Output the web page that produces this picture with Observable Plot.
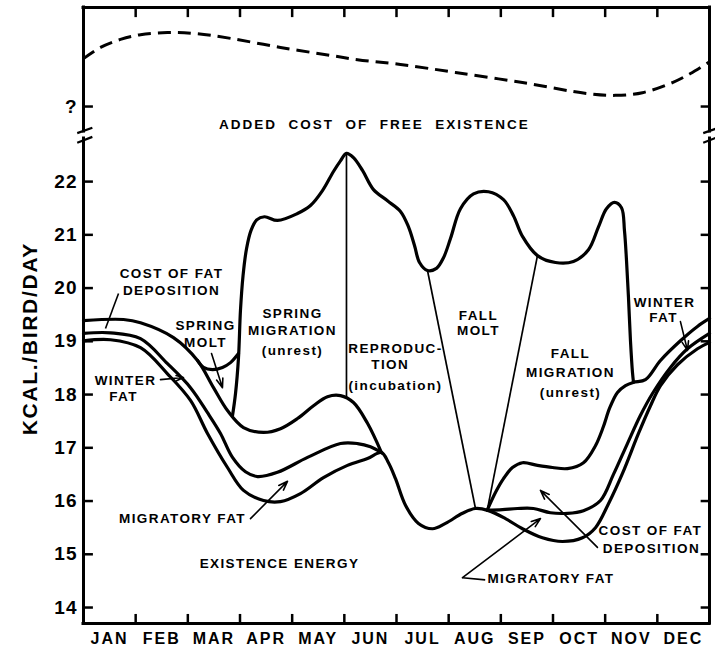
<!DOCTYPE html>
<html><head><meta charset="utf-8">
<script src="https://cdn.jsdelivr.net/npm/d3@7"></script>
<script src="https://cdn.jsdelivr.net/npm/@observablehq/plot@0.6"></script>
<style>
body{margin:0;background:#fff;}
#chart svg{display:block;}
</style></head><body><div id="chart"></div>
<script>
// ---- scale / tick data ----
const months = ["JAN","FEB","MAR","APR","MAY","JUN","JUL","AUG","SEP","OCT","NOV","DEC"];
const yTicks = [14,15,16,17,18,19,20,21,22];
const qTick = 23.41;            // the "?" tick above the axis break
const yMin = 13.70, yMax = 25.27;
const breakLo = 22.81, breakHi = 22.94;

// ---- series: [month (0-12), kcal/bird/day] ----
const addedCost = [[0,24.31],[0.326,24.52],[0.709,24.67],[1.093,24.76],[1.61,24.80],[2.147,24.78],[2.818,24.69],[3.776,24.52],[4.735,24.37],[5.252,24.29],[6.076,24.20],[7.131,24.05],[8.415,23.86],[9.68,23.65],[10.197,23.62],[10.715,23.67],[11.29,23.86],[11.635,24.03],[12,24.25]];

const existence = [[0,19.01],[0.518,19.03],[1.093,18.88],[1.61,18.39],[2.051,17.89],[2.377,17.27],[2.76,16.63],[3.067,16.20],[3.45,16.01],[3.776,15.99],[4.159,16.14],[4.6,16.44],[5.06,16.67],[5.444,16.80],[5.712,16.91],[5.846,16.72],[5.981,16.42],[6.172,15.92],[6.421,15.58],[6.69,15.48],[6.939,15.58],[7.265,15.77],[7.514,15.86],[7.763,15.82],[8.089,15.67],[8.415,15.48],[8.798,15.31],[9.182,15.24],[9.565,15.31],[9.814,15.50],[10.064,15.95],[10.332,16.52],[10.639,17.27],[10.869,17.79],[11.061,18.17],[11.386,18.56],[11.77,18.86],[12,18.98]];

const springFatTop = [[0,19.39],[0.767,19.41],[1.093,19.35],[1.725,19.07],[2.185,18.64],[2.492,18.13],[2.76,17.70],[3.067,17.38],[3.45,17.29],[3.776,17.36],[4.102,17.55],[4.409,17.79],[4.677,17.96],[4.926,17.98],[5.175,17.85],[5.444,17.46],[5.712,16.91]];

const springFatMid = [[0,19.15],[0.518,19.16],[1.093,19.05],[1.61,18.58],[2.051,18.13],[2.377,17.66],[2.626,17.27],[2.856,16.82],[3.105,16.55],[3.335,16.46],[3.718,16.54],[4.294,16.82],[4.926,17.08],[5.252,17.08],[5.501,17.02],[5.712,16.91]];

const fallFatTop = [[7.74,15.83],[7.897,16.16],[8.051,16.42],[8.223,16.63],[8.415,16.72],[8.702,16.67],[8.99,16.63],[9.277,16.61],[9.584,16.72],[9.814,17.04],[9.967,17.40],[10.083,17.74],[10.236,18.04],[10.39,18.17],[10.543,18.23],[10.773,18.28],[11.06,18.64],[11.443,19.01],[11.769,19.28],[12,19.43]];

const fallFatMid = [[7.74,15.83],[8.031,15.84],[8.319,15.86],[8.626,15.86],[8.951,15.78],[9.277,15.77],[9.584,15.82],[9.91,16.01],[10.159,16.50],[10.427,17.08],[10.677,17.61],[10.907,18.02],[11.252,18.51],[11.578,18.86],[12,19.15]];

const activity = [[2.856,17.60],[2.914,18.02],[2.971,18.69],[3.009,19.58],[3.058,20.23],[3.125,20.74],[3.21,21.08],[3.32,21.28],[3.469,21.34],[3.719,21.27],[4.102,21.40],[4.351,21.55],[4.581,21.83],[4.792,22.19],[4.926,22.39],[5.041,22.53],[5.175,22.45],[5.348,22.21],[5.559,21.85],[5.827,21.64],[6.076,21.44],[6.23,21.15],[6.345,20.80],[6.441,20.48],[6.594,20.33],[6.766,20.37],[6.901,20.57],[7.035,20.93],[7.226,21.49],[7.476,21.77],[7.763,21.81],[8.051,21.66],[8.242,21.36],[8.415,20.97],[8.702,20.61],[9.047,20.48],[9.392,20.50],[9.68,20.72],[9.872,21.15],[10.025,21.49],[10.178,21.61],[10.313,21.51],[10.37,21.08],[10.409,20.52],[10.447,19.82],[10.485,19.01],[10.524,18.41],[10.543,18.23]];

const springMolt = [[2.185,18.64],[2.3,18.51],[2.473,18.47],[2.664,18.51],[2.818,18.60],[2.971,18.77]];

const dividers = [
  {x1:5.041, y1:22.53, x2:5.041, y2:17.94},
  {x1:6.594, y1:20.33, x2:7.514, y2:15.86},
  {x1:8.702, y1:20.61, x2:7.74,  y2:15.83}
];

const arrows = [
  {x1:1.476, y1:18.28, x2:1.917, y2:18.32},
  {x1:2.454, y1:18.77, x2:2.664, y2:18.13},
  {x1:3.201, y1:15.67, x2:3.91,  y2:16.37},
  {x1:11.443,y1:19.37, x2:11.578,y2:18.83},
  {x1:7.265, y1:14.56, x2:8.76,  y2:15.67},
  {x1:9.852, y1:15.13, x2:8.76,  y2:16.20}
];
const leaders = [
  {x1:0.671, y1:19.90, x2:0.422, y2:19.24},
  {x1:7.265, y1:14.56, x2:7.70,  y2:14.52}
];

const title = [{t:"ADDED \u00A0COST \u00A0OF \u00A0FREE \u00A0EXISTENCE", x:5.578, y:23.07}];
const notes = [
  {t:"COST OF FAT", x:1.687, y:20.27},
  {t:"DEPOSITION", x:1.687, y:19.95},
  {t:"WINTER", x:0.805, y:18.26},
  {t:"FAT", x:0.767, y:17.96},
  {t:"SPRING", x:2.339, y:19.30},
  {t:"MOLT", x:2.339, y:18.98},
  {t:"SPRING", x:4.006, y:19.52},
  {t:"MIGRATION", x:4.006, y:19.20},
  {t:"(unrest)", x:4.006, y:18.83},
  {t:"REPRODUC-", x:5.98, y:18.86},
  {t:"TION", x:5.88, y:18.56},
  {t:"(incubation)", x:5.98, y:18.17},
  {t:"FALL", x:7.571, y:19.48},
  {t:"MOLT", x:7.571, y:19.20},
  {t:"FALL", x:9.335, y:18.77},
  {t:"MIGRATION", x:9.335, y:18.41},
  {t:"(unrest)", x:9.335, y:18.04},
  {t:"WINTER", x:11.137, y:19.73},
  {t:"FAT", x:11.118, y:19.45},
  {t:"MIGRATORY FAT", x:1.898, y:15.67},
  {t:"EXISTENCE ENERGY", x:3.757, y:14.83},
  {t:"COST OF FAT", x:10.868, y:15.45},
  {t:"DEPOSITION", x:10.887, y:15.11}
];
const startNotes = [{t:"MIGRATORY FAT", x:7.744, y:14.54}];
const yLabel = [{t:"KCAL./BIRD/DAY", x:-1.016, y:19.05}];

const breakSides = [0, 12];

const lineOpts = {x: d => d[0], y: d => d[1], curve: "catmull-rom", stroke: "black", strokeWidth: 3.2, strokeLinejoin: "round", strokeLinecap: "round"};
const noteFont = {fontSize: 13.5, fontWeight: "bold"};

const chart = Plot.plot({
  width: 715, height: 650,
  marginLeft: 83, marginRight: 6, marginTop: 7, marginBottom: 27,
  style: {fontFamily: "Liberation Sans, Arial, sans-serif", background: "white", color: "black", overflow: "visible"},
  x: {domain: [0, 12], axis: null},
  y: {domain: [yMin, yMax], axis: null},
  marks: [
    // frame with axis break
    Plot.ruleY([yMax, yMin], {stroke: "black", strokeWidth: 3, strokeLinecap: "square"}),
    Plot.ruleX(breakSides, {y1: yMin, y2: breakLo, stroke: "black", strokeWidth: 3, strokeLinecap: "square"}),
    Plot.ruleX(breakSides, {y1: breakHi, y2: yMax, stroke: "black", strokeWidth: 3, strokeLinecap: "square"}),
    Plot.link(breakSides, {x1: d => d - 0.12, x2: d => d + 0.17, y1: breakHi - 0.03, y2: breakHi + 0.07, stroke: "black", strokeWidth: 2.2}),
    Plot.link(breakSides, {x1: d => d - 0.12, x2: d => d + 0.17, y1: breakLo - 0.08, y2: breakLo + 0.03, stroke: "black", strokeWidth: 2.2}),
    // inward ticks
    Plot.ruleY([...yTicks, qTick], {x1: 0, x2: 0.19, stroke: "black", strokeWidth: 2.5}),
    Plot.ruleY([...yTicks, qTick], {x1: 11.84, x2: 12, stroke: "black", strokeWidth: 2.5}),
    Plot.ruleX(d3.range(1, 12), {y1: yMin, y2: yMin + 0.17, stroke: "black", strokeWidth: 2.5}),
    Plot.ruleX(d3.range(1, 12), {y1: yMax - 0.19, y2: yMax, stroke: "black", strokeWidth: 2.5}),
    // axes labels
    Plot.axisY([...yTicks, qTick], {tickSize: 0, tickPadding: 6, tickFormat: d => d === qTick ? "?" : String(d), fontSize: 19, fontWeight: "bold"}),
    Plot.axisX(d3.range(12).map(i => i + 0.5), {tickSize: 0, tickPadding: 9, tickFormat: d => months[Math.floor(d)], fontSize: 16, fontWeight: "bold"}),
    Plot.text(yLabel, {x: "x", y: "y", text: "t", rotate: -90, fontSize: 21, fontWeight: "bold"}),
    // curves
    Plot.line(addedCost, {...lineOpts, strokeWidth: 3, strokeDasharray: "13,7", strokeLinecap: "butt"}),
    Plot.line(existence, lineOpts),
    Plot.line(springFatTop, lineOpts),
    Plot.line(springFatMid, lineOpts),
    Plot.line(fallFatTop, lineOpts),
    Plot.line(fallFatMid, lineOpts),
    Plot.line(activity, lineOpts),
    Plot.line(springMolt, lineOpts),
    Plot.link(dividers, {x1: "x1", y1: "y1", x2: "x2", y2: "y2", stroke: "black", strokeWidth: 1.7}),
    // pointers
    Plot.link(leaders, {x1: "x1", y1: "y1", x2: "x2", y2: "y2", stroke: "black", strokeWidth: 1.6}),
    Plot.arrow(arrows, {x1: "x1", y1: "y1", x2: "x2", y2: "y2", stroke: "black", strokeWidth: 1.6, headLength: 9, headAngle: 40}),
    // notes
    Plot.text(title, {x: "x", y: "y", text: "t", ...noteFont}),
    Plot.text(notes, {x: "x", y: "y", text: "t", ...noteFont}),
    Plot.text(startNotes, {x: "x", y: "y", text: "t", textAnchor: "start", ...noteFont})
  ]
});

// letter spacing of the hand lettering
const monthSet = new Set(months);
d3.select(chart).selectAll("text").each(function () {
  const s = this.textContent;
  let ls = 1.4;
  if (monthSet.has(s)) ls = 2;
  else if (/^\d+$/.test(s) || s === "?") ls = 1;
  else if (s.startsWith("KCAL")) ls = 1.7;
  else if (s.startsWith("ADDED")) ls = 2;
  this.style.letterSpacing = ls + "px";
});
document.getElementById("chart").appendChild(chart);
</script></body></html>
